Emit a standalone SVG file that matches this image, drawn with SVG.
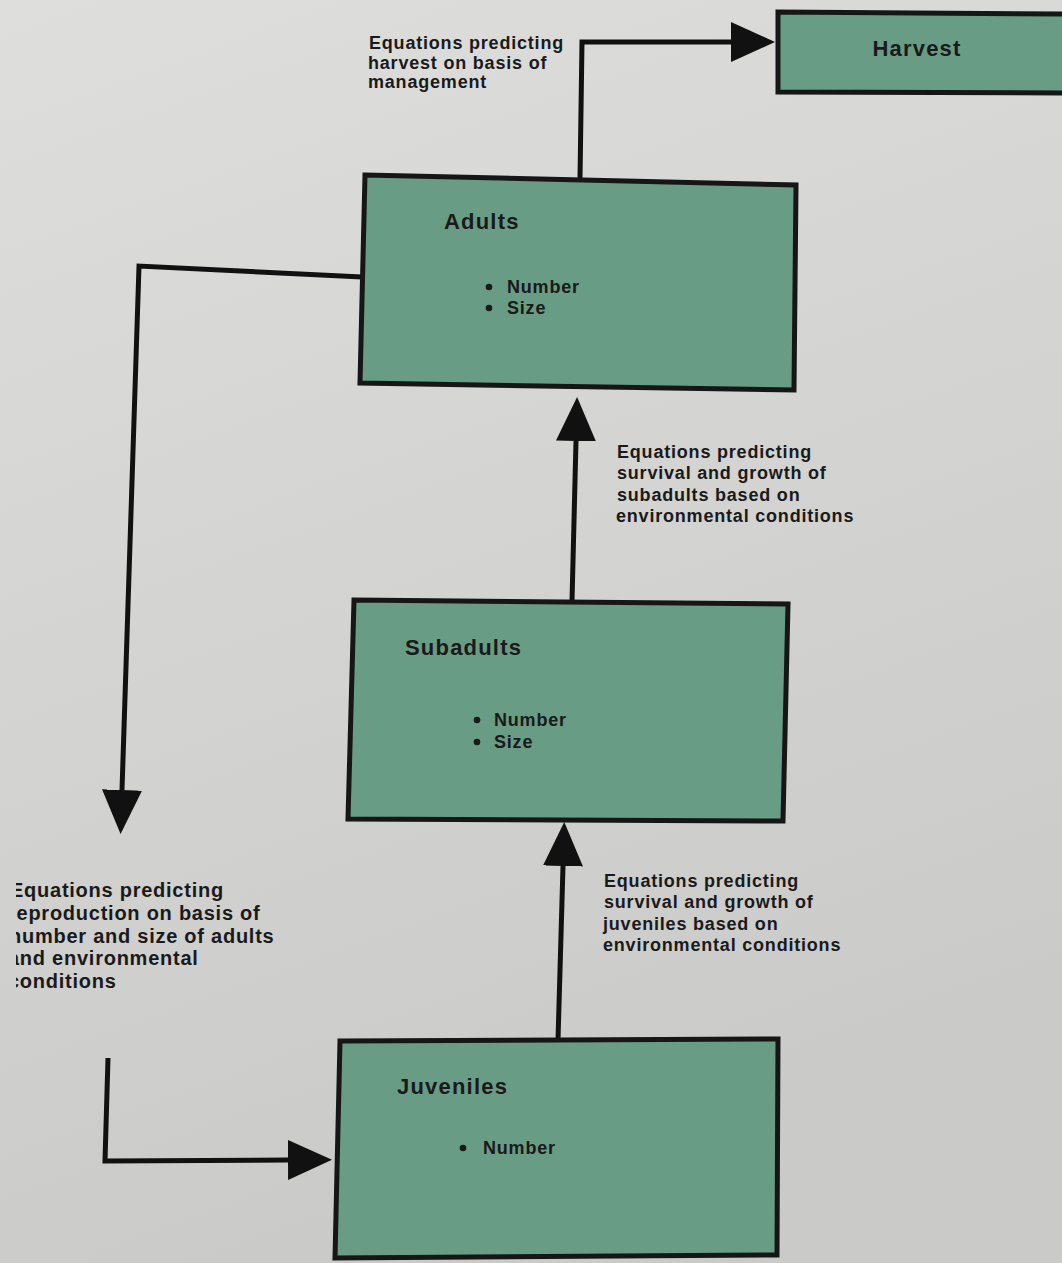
<svg xmlns="http://www.w3.org/2000/svg" width="1062" height="1263" viewBox="0 0 1062 1263">
<defs>
<linearGradient id="bg" x1="0" y1="0" x2="0.3" y2="1">
<stop offset="0" stop-color="#dededc"/>
<stop offset="1" stop-color="#cacac8"/>
</linearGradient>
<marker id="arrow" viewBox="0 0 44 40" refX="0" refY="20" markerWidth="44" markerHeight="40" markerUnits="userSpaceOnUse" orient="auto">
<path d="M0,0 L44,20 L0,40 Z" fill="#111"/>
</marker>
<clipPath id="leftclip"><rect x="16" y="860" width="400" height="160"/></clipPath>
<style>
.box{fill:#699c84;stroke:#161616;stroke-width:5;stroke-linejoin:miter}
.edge{fill:none;stroke:#111;stroke-width:5;stroke-linejoin:miter;marker-end:url(#arrow)}
.dot{fill:#1a1a1a}
.t{font-family:"Liberation Sans",Arial,sans-serif;font-weight:bold;fill:#1a1a1a}
.title{font-size:22px;letter-spacing:1.2px}
.item{font-size:18px;letter-spacing:0.8px}
.lbl{font-size:18px;letter-spacing:0.8px}
.lbl2{font-size:20px;letter-spacing:0.75px}
</style>
</defs>
<rect x="0" y="0" width="1062" height="1263" fill="url(#bg)"/>

<g id="connectors">
<path class="edge" d="M580,179 L582,42 L731,42"/>
<path class="edge" d="M362,277 L139,266 L122,790"/>
<path class="edge" d="M572,601 L576,441"/>
<path class="edge" d="M558,1040 L563,866"/>
<path class="edge" d="M108,1058 L105,1161 L288,1160"/>
</g>

<g id="harvest">
<polygon class="box" points="778,12 1070,14 1070,93 778,92"/>
<text class="t title" x="917" y="56" text-anchor="middle">Harvest</text>
</g>

<g id="adults">
<polygon class="box" points="365,175 796,185 794,390 360,383"/>
<text class="t title" x="444" y="229">Adults</text>
<circle class="dot" cx="489" cy="287" r="3.3"/>
<text class="t item" x="507" y="293">Number</text>
<circle class="dot" cx="489" cy="308" r="3.3"/>
<text class="t item" x="507" y="314">Size</text>
</g>

<g id="subadults">
<polygon class="box" points="354,600 788,604 783,821 348,819"/>
<text class="t title" x="405" y="655">Subadults</text>
<circle class="dot" cx="477" cy="720" r="3.3"/>
<text class="t item" x="494" y="726">Number</text>
<circle class="dot" cx="477" cy="742" r="3.3"/>
<text class="t item" x="494" y="748">Size</text>
</g>

<g id="juveniles">
<polygon class="box" points="340,1041 778,1039 777,1255 335,1258"/>
<text class="t title" x="397" y="1094">Juveniles</text>
<circle class="dot" cx="463" cy="1148" r="3.3"/>
<text class="t item" x="483" y="1154">Number</text>
</g>

<g id="label-harvest">
<text class="t lbl" x="369" y="49">Equations predicting</text>
<text class="t lbl" x="368" y="69">harvest on basis of</text>
<text class="t lbl" x="368" y="88">management</text>
</g>

<g id="label-subadults">
<text class="t lbl" x="617" y="458">Equations predicting</text>
<text class="t lbl" x="617" y="479">survival and growth of</text>
<text class="t lbl" x="617" y="501">subadults based on</text>
<text class="t lbl" x="616" y="522">environmental conditions</text>
</g>

<g id="label-juveniles">
<text class="t lbl" x="604" y="887">Equations predicting</text>
<text class="t lbl" x="604" y="908">survival and growth of</text>
<text class="t lbl" x="603" y="930">juveniles based on</text>
<text class="t lbl" x="603" y="951">environmental conditions</text>
</g>

<g id="label-reproduction" clip-path="url(#leftclip)">
<text class="t lbl2" x="10" y="897">Equations predicting</text>
<text class="t lbl2" x="8" y="920">reproduction on basis of</text>
<text class="t lbl2" x="9" y="943">number and size of adults</text>
<text class="t lbl2" x="8" y="965">and environmental</text>
<text class="t lbl2" x="8" y="988">conditions</text>
</g>
</svg>
